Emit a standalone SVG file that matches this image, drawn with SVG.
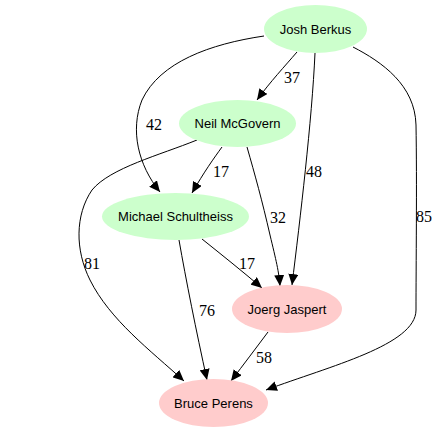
<svg xmlns="http://www.w3.org/2000/svg" width="441" height="432" viewBox="0 0 441 432">
<defs>
<style>
.n ellipse{stroke:none}
.g ellipse{fill:#ccffcc}
.p ellipse{fill:#ffcccc}
.n text{font-family:"Liberation Sans",Arial,sans-serif;font-size:13px;fill:#000;text-anchor:middle}
.e path{fill:none;stroke:#000;stroke-width:1;marker-end:url(#ah)}
.e text{font-family:"Liberation Serif","Times New Roman",serif;font-size:16px;fill:#000;text-anchor:middle}
</style>
<marker id="ah" markerUnits="userSpaceOnUse" markerWidth="12" markerHeight="10" viewBox="0 0 12 10" refX="11" refY="5" orient="auto">
<path d="M0,0 L11,5 L0,10 Z" fill="#000"/>
</marker>
</defs>
<rect width="441" height="432" fill="#fff"/>
<g id="edges" class="e">
<path d="M297,52 C285,66 270,82 257,100"/>
<text x="292" y="83">37</text>
<path d="M264,36 C210,44 160,62 142,100 C130,130 138,165 160,192"/>
<text x="154" y="130">42</text>
<path d="M315,53 C312,120 300,220 292,285"/>
<text x="314" y="177">48</text>
<path d="M353,47 C382,62 415,85 416,125 C417,180 416,270 416,310 C416,345 330,366 266,390"/>
<text x="424" y="222">85</text>
<path d="M222,147 C214,158 204,172 192,193"/>
<text x="221" y="177">17</text>
<path d="M247,147 C255,175 262,200 270,235 C276,260 279,272 280,286"/>
<text x="278" y="223">32</text>
<path d="M197,140 C160,155 110,168 92,190 C75,215 75,250 90,280 C110,320 150,350 184,381"/>
<text x="92" y="269">81</text>
<path d="M202,239 C222,255 242,271 262,288"/>
<text x="247" y="269">17</text>
<path d="M179,240 C186,280 196,330 207,380"/>
<text x="207" y="316">76</text>
<path d="M268,332 C256,348 244,364 231,381"/>
<text x="264" y="363">58</text>
</g>
<g id="josh" class="n g"><ellipse cx="315.5" cy="29" rx="51.5" ry="24"/><text x="315.5" y="33.5">Josh Berkus</text></g>
<g id="neil" class="n g"><ellipse cx="237.5" cy="123.5" rx="58.5" ry="23.5"/><text x="237.5" y="128">Neil McGovern</text></g>
<g id="michael" class="n g"><ellipse cx="175.5" cy="216.5" rx="73.5" ry="23.5"/><text x="175.5" y="221">Michael Schultheiss</text></g>
<g id="joerg" class="n p"><ellipse cx="287" cy="309" rx="55" ry="24"/><text x="287" y="313.5">Joerg Jaspert</text></g>
<g id="bruce" class="n p"><ellipse cx="213.5" cy="403" rx="54.5" ry="24"/><text x="213.5" y="407.5">Bruce Perens</text></g>
</svg>
